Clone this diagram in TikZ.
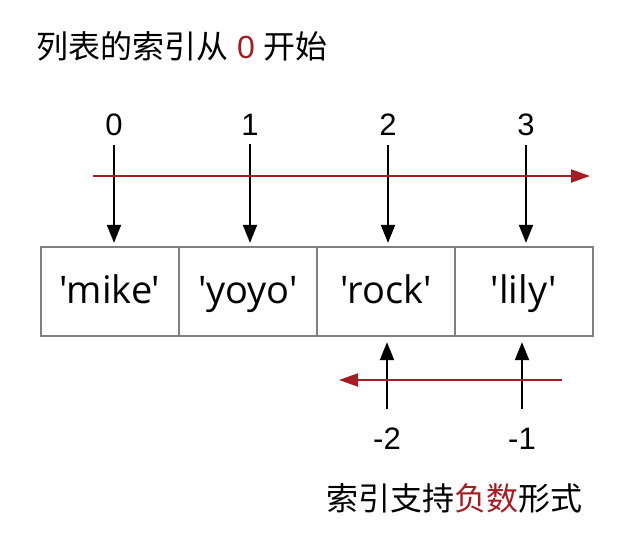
\documentclass[tikz,border=0pt]{standalone}
\usepackage{fontspec}
\setmainfont{Liberation Sans}
\newfontfamily\cjk{Noto Sans CJK SC}
\newfontfamily\latin{Liberation Sans}
\newfontfamily\boxfont{Open Sans}
\usetikzlibrary{arrows.meta}
\definecolor{idxred}{RGB}{163,29,36}
\definecolor{boxgray}{RGB}{128,128,128}
\begin{document}
\begin{tikzpicture}[x=1pt,y=-1pt,
  cell/.style={draw=boxgray,line width=1.3pt,minimum width=138pt,minimum height=89pt,inner sep=0pt,
    text height=29pt,text depth=6pt,
    font=\boxfont\fontsize{38}{45}\selectfont},
  idx/.style={inner sep=0pt,font=\fontsize{31}{37}\selectfont},
  ptr/.style={line width=2pt,-{Triangle[length=18pt,width=14pt]}},
  dirarrow/.style={idxred,line width=2pt,-{Triangle[length=19pt,width=13pt]}},
  caption/.style={inner sep=0pt,font=\cjk\fontsize{32}{38}\selectfont}]
\useasboundingbox (0,0) rectangle (632,542);
% title
\node[caption,anchor=base west] (title) at (36,58) {列表的索引从{\latin\ \textcolor{idxred}{0}\ }开始};
% cells
\node[cell] (b0) at (110,291.5) {'mike'};
\node[cell] (b1) at (248,291.5) {'yoyo'};
\node[cell] (b2) at (386,291.5) {'rock'};
\node[cell] (b3) at (524,291.5) {'lily'};
% positive indices
\node[idx] (i0) at (114,124.5) {0};
\node[idx] (i1) at (250,124.5) {1};
\node[idx] (i2) at (388,124.5) {2};
\node[idx] (i3) at (526,124.5) {3};
\foreach \k in {0,1,2,3}{
  \draw[ptr,shorten <=9pt,shorten >=3.5pt] (i\k.south) -- (b\k.north -| i\k);
}
% forward direction arrow
\coordinate (fs) at (93,176);
\coordinate (fe) at (590,176);
\draw[dirarrow] (fs) -- (fe);
% negative indices
\node[idx] (m2) at (387,439) {-2};
\node[idx] (m1) at (522,439) {-1};
\draw[ptr,shorten <=19pt,shorten >=5.5pt] (m2.north) -- (b2.south -| m2);
\draw[ptr,shorten <=19pt,shorten >=5.5pt] (m1.north) -- (b3.south -| m1);
% backward direction arrow
\coordinate (bs) at (562,380);
\coordinate (be) at (339,380);
\draw[dirarrow] (bs) -- (be);
% caption
\node[caption,anchor=base west] (note) at (326,510) {索引支持\textcolor{idxred}{负数}形式};
\end{tikzpicture}
\end{document}
